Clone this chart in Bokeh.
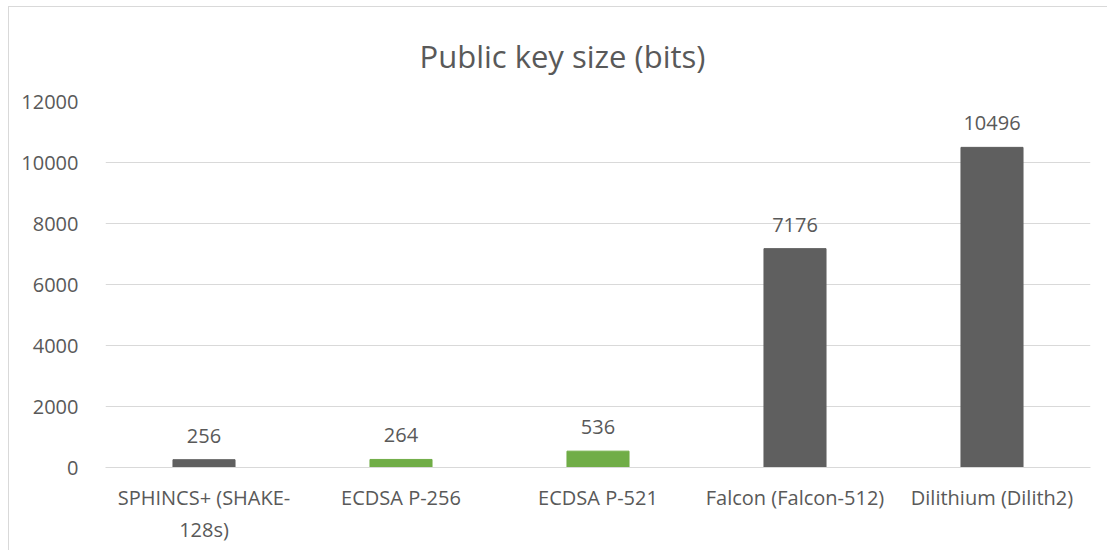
from bokeh.plotting import figure
from bokeh.models import ColumnDataSource, LabelSet, Range1d, FixedTicker
from bokeh.core.properties import value
from bokeh.embed import file_html
from bokeh.resources import INLINE

categories = ["SPHINCS+ (SHAKE-\n128s)", "ECDSA P-256", "ECDSA P-521", "Falcon (Falcon-512)", "Dilithium (Dilith2)"]
values = [256, 264, 536, 7176, 10496]
bar_colors = ["#5f5f5f", "#70ad47", "#70ad47", "#5f5f5f", "#5f5f5f"]
y_ticks = [0, 2000, 4000, 6000, 8000, 10000, 12000]
title_text = "Public key size (bits)"

FONT = "Open Sans"
TXT = "#595959"

src = ColumnDataSource(dict(cat=categories, val=values, color=bar_colors,
                            lab=[str(v) for v in values]))

p = figure(x_range=categories, y_range=Range1d(0, 12000),
           width=1099, height=544, output_backend="svg", toolbar_location=None,
           min_border_left=96, min_border_right=18, min_border_top=93, min_border_bottom=84,
           title=title_text)
p.styles = {"margin-left": "8px", "margin-top": "6px",
            "border-left": "1px solid #d9d9d9", "border-top": "1px solid #d9d9d9"}
p.outline_line_color = None
p.background_fill_color = "white"
p.border_fill_color = "white"

p.title.align = "left"
p.title.text_font = FONT
p.title.text_font_size = "31px"
p.title.text_font_style = "normal"
p.title.text_color = TXT
p.title.standoff = 50
p.title.offset = 314

p.vbar(x="cat", top="val", width=0.315, color="color", source=src)

labels = LabelSet(x="cat", y="val", text="lab", source=src, y_offset=24,
                  text_align="center", text_baseline="middle",
                  text_font=value(FONT), text_font_size=value("20px"), text_color=TXT)
p.add_layout(labels)

p.yaxis.ticker = FixedTicker(ticks=y_ticks)
p.yaxis.axis_line_color = None
p.yaxis.major_tick_line_color = None
p.yaxis.minor_tick_line_color = None
p.yaxis.major_label_text_font = FONT
p.yaxis.major_label_text_font_size = "20px"
p.yaxis.major_label_text_color = TXT
p.yaxis.major_label_standoff = 21

p.xaxis.axis_line_color = "#d9d9d9"
p.xaxis.major_tick_line_color = None
p.xaxis.minor_tick_line_color = None
p.xaxis.major_label_text_font = FONT
p.xaxis.major_label_text_font_size = "20px"
p.xaxis.major_label_text_color = TXT
p.xaxis.major_label_standoff = 10

p.xgrid.grid_line_color = None
p.ygrid.grid_line_color = "#d9d9d9"
p.ygrid.grid_line_width = 1

open("out.html", "w").write(file_html(p, INLINE))
